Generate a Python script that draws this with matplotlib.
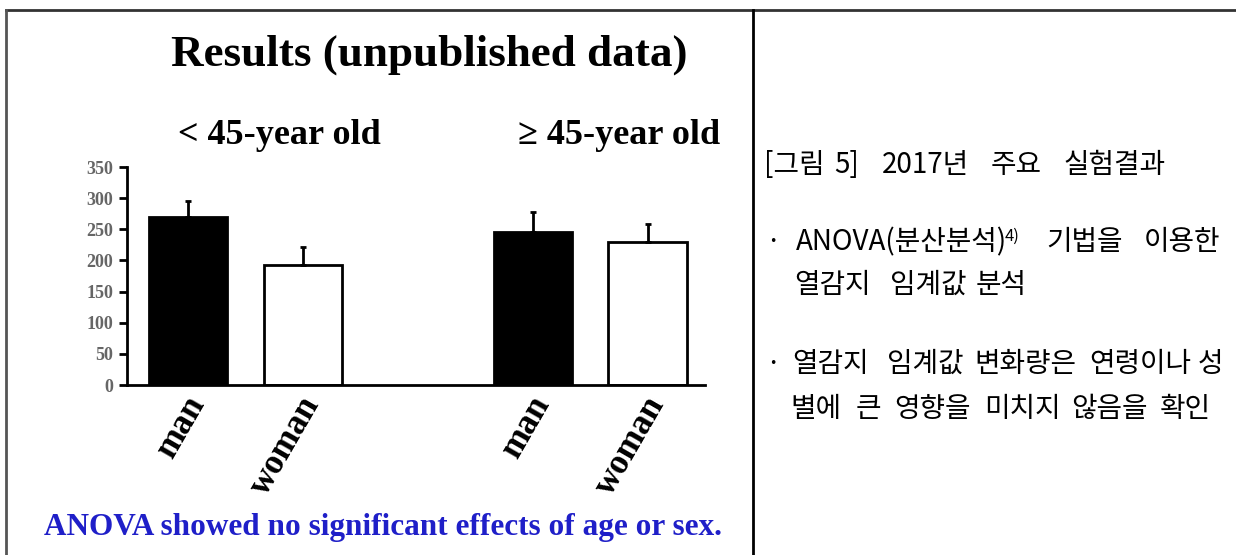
import matplotlib
matplotlib.use("Agg")
import matplotlib.pyplot as plt
from matplotlib.lines import Line2D
from matplotlib.transforms import ScaledTranslation

# data
groups = ["< 45-year old", "\u2265 45-year old"]
sex_labels = ["man", "woman", "man", "woman"]
means = [270, 192, 246, 229]
errors = [25, 30, 31, 30]
bar_colors = ["black", "white", "black", "white"]
positions = [0, 1, 3, 4]
yticks = [0, 50, 100, 150, 200, 250, 300, 350]

W, H = 1236, 555
serif = ["Liberation Serif", "DejaVu Serif"]
korean = ["Noto Sans CJK KR", "DejaVu Sans"]


# pixel position (from top-left) -> figure fraction
def px(x, y):
    return x / W, 1 - y / H


fig = plt.figure(figsize=(W / 100, H / 100), dpi=100)

# frame lines of the table cell
for (x0, y0), (x1, y1), col in [((6, 10), (1236, 10), "#333333"),
                                ((6, 10), (6, 555), "#555555"),
                                ((753, 10), (753, 555), "black")]:
    a, b = px(x0, y0)
    c, d = px(x1, y1)
    fig.add_artist(Line2D([a, c], [b, d], color=col, linewidth=2,
                          transform=fig.transFigure))

ax = fig.add_axes([127 / W, (H - 385) / H, 578 / W, 218 / H])
ax.bar(positions, means, width=0.68, color=bar_colors, edgecolor="black",
       linewidth=2, yerr=[[0] * len(errors), errors],
       error_kw=dict(ecolor="black", elinewidth=2, capsize=2.5, capthick=2))
ax.set_xlim(-0.53, 4.5)
ax.set_ylim(0, 350)
ax.set_yticks(yticks)
ax.set_yticklabels([str(v) for v in yticks], fontsize=13, fontweight="bold",
                   family=serif, color="#666666")
ax.tick_params(axis="y", direction="out", length=6, width=2, pad=4)
ax.set_xticks(positions)
ax.set_xticklabels(sex_labels, rotation=60, ha="right", va="center",
                   rotation_mode="anchor", fontsize=25, fontweight="bold",
                   family=serif)
ax.tick_params(axis="x", length=0, pad=10)
shift = ScaledTranslation(10 / 100, 0, fig.dpi_scale_trans)
for lab in ax.get_xticklabels():
    lab.set_transform(lab.get_transform() + shift)
for s in ["top", "right"]:
    ax.spines[s].set_visible(False)
ax.spines["left"].set_linewidth(2)
ax.spines["bottom"].set_linewidth(2)

# titles
fig.text(*px(429, 55), "Results (unpublished data)", ha="center", va="center",
         fontsize=32.5, fontweight="bold", family=serif)
fig.text(*px(279, 135), groups[0], ha="center", va="center",
         fontsize=26, fontweight="bold", family=serif)
fig.text(*px(619, 135), groups[1], ha="center", va="center",
         fontsize=26, fontweight="bold", family=serif)
fig.text(*px(383, 528), "ANOVA showed no significant effects of age or sex.",
         ha="center", va="center", fontsize=22.5, fontweight="bold",
         family=serif, color="#1f1fc8")

# right-hand description, word by word (word centres, justified lines)
kfs = 20
lines = [
    (165, [(794, "[그림"), (847, "5]"), (925, "2017년"), (1016, "주요"), (1114, "실험결과")]),
    (242, [(773, "·"), (1085, "기법을"), (1182, "이용한")]),
    (285, [(833, "열감지"), (928, "임계값"), (1001, "분석")]),
    (364, [(773, "·"), (831, "열감지"), (925, "임계값"), (1025, "변화량은"),
           (1140, "연령이나"), (1210, "성")]),
    (409, [(816, "별에"), (868, "큰"), (933, "영향을"), (1022, "미치지"),
           (1109, "않음을"), (1185, "확인")]),
]
for y, words in lines:
    for x, t in words:
        fig.text(*px(x, y), t, ha="center", va="center", fontsize=kfs,
                 family=korean)
fig.text(*px(796, 242), "ANOVA(분산분석)", va="center", fontsize=20, family=korean)
fig.text(*px(1005, 236), "4)", va="center", fontsize=12, family=korean)

fig.savefig("out.png", dpi=100)
